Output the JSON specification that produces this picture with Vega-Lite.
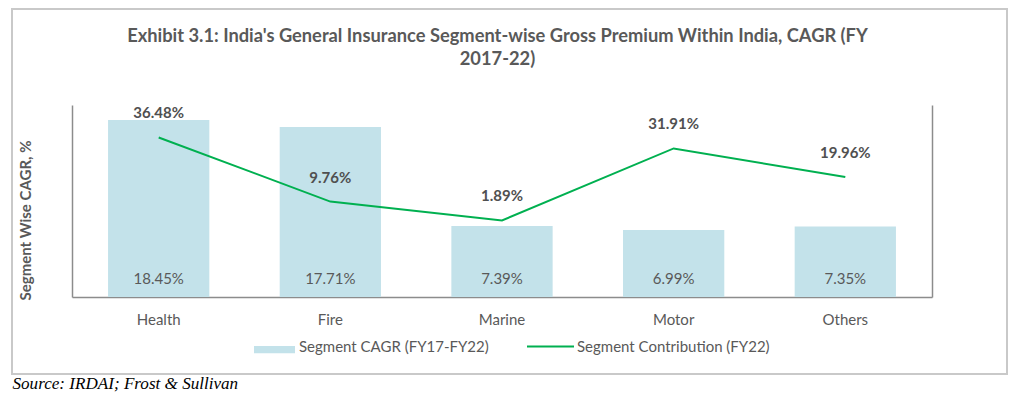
{
  "$schema": "https://vega.github.io/schema/vega-lite/v6.json",
  "width": 995,
  "height": 365,
  "autosize": {"type": "none"},
  "padding": {"left": 12, "top": 9, "right": 17, "bottom": 21},
  "background": "white",
  "title": {
    "text": ["Exhibit 3.1: India's General Insurance Segment-wise Gross Premium Within India, CAGR (FY", "2017-22)"],
    "font": "Lato",
    "fontSize": 18.3,
    "fontWeight": "bold",
    "color": "#595959",
    "anchor": "middle",
    "frame": "group",
    "offset": -60,
    "dx": -12,
    "lineHeight": 23
  },
  "config": {
    "view": {"stroke": "#c9c9c9", "strokeWidth": 2},
    "font": "Lato"
  },
  "data": {
    "values": [
      {"segment": "Health", "cagr": 0.1845, "contribution": 0.3648},
      {"segment": "Fire", "cagr": 0.1771, "contribution": 0.0976},
      {"segment": "Marine", "cagr": 0.0739, "contribution": 0.0189},
      {"segment": "Motor", "cagr": 0.0699, "contribution": 0.3191},
      {"segment": "Others", "cagr": 0.0735, "contribution": 0.1996}
    ]
  },
  "encoding": {
    "x": {
      "field": "segment",
      "type": "nominal",
      "sort": null,
      "scale": {"range": [60, 920], "paddingInner": 0.41, "paddingOuter": 0.21},
      "axis": {
        "offset": -77,
        "domainColor": "#8c8c8c",
        "domainWidth": 1.5,
        "ticks": false,
        "grid": false,
        "labelAngle": 0,
        "labelFont": "Lato",
        "labelFontSize": 15,
        "labelColor": "#595959",
        "labelPadding": 15,
        "title": "Source: IRDAI; Frost & Sullivan",
        "titleFont": "Liberation Serif",
        "titleFontStyle": "italic",
        "titleFontWeight": "normal",
        "titleFontSize": 17.1,
        "titleColor": "#000000",
        "titleAlign": "left",
        "titleAnchor": "start",
        "titleBaseline": "middle",
        "titleX": 0,
        "titleY": 86
      }
    }
  },
  "layer": [
    {
      "layer": [
        {
          "mark": {"type": "bar"},
          "encoding": {
            "y": {
              "field": "cagr",
              "type": "quantitative",
              "scale": {"domain": [0, 0.2], "range": [288, 96], "nice": false},
              "axis": {
                "orient": "left",
                "offset": -60,
                "labels": false,
                "ticks": false,
                "grid": false,
                "domainColor": "#8c8c8c",
                "domainWidth": 1.5,
                "title": "Segment Wise CAGR, %",
                "titleFont": "Lato",
                "titleFontSize": 15,
                "titleFontWeight": "bold",
                "titleColor": "#595959",
                "titleAngle": 270,
                "titleAlign": "center",
                "titleBaseline": "middle",
                "titleX": -47,
                "titleY": 211
              }
            },
            "fill": {
              "datum": "Segment CAGR (FY17-FY22)",
              "scale": {"range": ["#c3e2ea"]},
              "legend": {
                "orient": "none",
                "legendX": 242,
                "legendY": 317,
                "title": null,
                "padding": 0,
                "symbolType": "M-1,-0.03H1V0.33H-1Z",
                "symbolSize": 1681,
                "symbolStrokeWidth": 0,
                "labelFont": "Lato",
                "labelFontSize": 15,
                "labelColor": "#595959",
                "labelOffset": 4,
                "labelLimit": 400
              }
            }
          }
        },
        {
          "mark": {"type": "text", "baseline": "middle", "dy": -18, "fontSize": 15, "color": "#595959"},
          "encoding": {
            "y": {"datum": 0, "type": "quantitative"},
            "text": {"field": "cagr", "format": ".2%"}
          }
        }
      ]
    },
    {
      "layer": [
        {
          "mark": {"type": "line", "strokeWidth": 2},
          "encoding": {
            "y": {
              "field": "contribution",
              "type": "quantitative",
              "scale": {"domain": [-0.3, 0.5], "range": [288, 96], "nice": false, "zero": false},
              "axis": {
                "orient": "right",
                "offset": -75,
                "labels": false,
                "ticks": false,
                "grid": false,
                "title": null,
                "domainColor": "#8c8c8c",
                "domainWidth": 1.5
              }
            },
            "stroke": {
              "datum": "Segment Contribution (FY22)",
              "scale": {"range": ["#00b050"]},
              "legend": {
                "orient": "none",
                "legendX": 514,
                "legendY": 313,
                "title": null,
                "padding": 0,
                "symbolType": "M-1,0H1",
                "symbolSize": 2209,
                "symbolStrokeWidth": 2,
                "labelFont": "Lato",
                "labelFontSize": 15,
                "labelColor": "#595959",
                "labelOffset": 2,
                "labelLimit": 400
              }
            }
          }
        },
        {
          "mark": {"type": "text", "baseline": "middle", "dy": -24, "fontSize": 15, "fontWeight": "bold", "color": "#505050"},
          "encoding": {
            "y": {"field": "contribution", "type": "quantitative"},
            "text": {"field": "contribution", "format": ".2%"}
          }
        }
      ]
    }
  ],
  "resolve": {"scale": {"y": "independent", "fill": "independent", "stroke": "independent"}}
}
